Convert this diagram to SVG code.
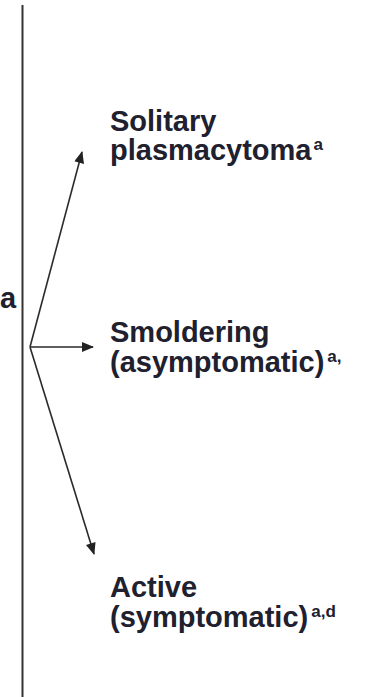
<svg xmlns="http://www.w3.org/2000/svg" width="372" height="697" viewBox="0 0 372 697">
  <style>
    .lbl { font-family: "Liberation Sans", Arial, sans-serif; font-weight: bold; font-size: 29px; fill: #20202e; }
    .sup { font-size: 17px; }
    .edge { stroke: #2a2a2a; stroke-width: 1.6; fill: none; }
  </style>
  <defs>
    <marker id="arrow" viewBox="0 0 12 10" refX="11" refY="5" markerWidth="13" markerHeight="10" markerUnits="userSpaceOnUse" orient="auto">
      <path d="M0,0 L12,5 L0,10 Z" fill="#222"/>
    </marker>
  </defs>

  <!-- timeline axis -->
  <line x1="22.5" y1="5" x2="22.5" y2="697" stroke="#333" stroke-width="2"/>

  <!-- left label fragment -->
  <g id="origin">
    <text class="lbl" x="0" y="308" font-size="26">a</text>
  </g>

  <g id="connectors">
    <line class="edge" x1="30" y1="347" x2="82" y2="152" marker-end="url(#arrow)"/>
    <line class="edge" x1="30" y1="347" x2="93" y2="347" marker-end="url(#arrow)"/>
    <line class="edge" x1="30" y1="347" x2="94" y2="554" marker-end="url(#arrow)"/>
  </g>

  <g id="solitary">
    <text class="lbl" x="110" y="131">Solitary</text>
    <text class="lbl" x="110" y="160">plasmacytoma<tspan class="sup" dx="2" dy="-10">a</tspan></text>
  </g>

  <g id="smoldering">
    <text class="lbl" x="110" y="342">Smoldering</text>
    <text class="lbl" x="110" y="372">(asymptomatic)<tspan class="sup" dx="3" dy="-10">a,</tspan></text>
  </g>

  <g id="active">
    <text class="lbl" x="110" y="597">Active</text>
    <text class="lbl" x="110" y="627">(symptomatic)<tspan class="sup" dx="3" dy="-10">a,d</tspan></text>
  </g>
</svg>
